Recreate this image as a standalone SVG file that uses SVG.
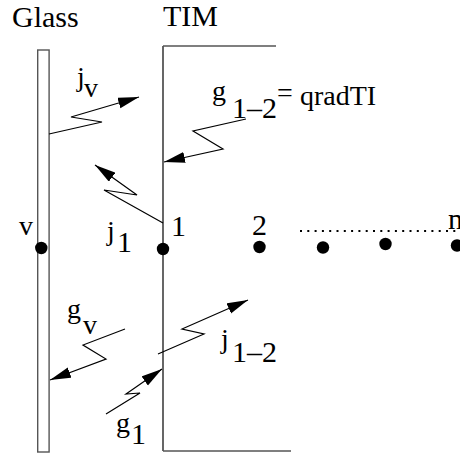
<svg xmlns="http://www.w3.org/2000/svg" width="460" height="457" viewBox="0 0 460 457">
<style>
.t{font-size:30px}
.l{font-size:28px}
.wall{fill:none;stroke:#555;stroke-width:1.4}
.edge{fill:none;stroke:#000;stroke-width:1.2}
.ray{fill:none;stroke:#000;stroke-width:1.2;marker-end:url(#ah)}
.pt{fill:#000}
</style>
<defs>
<marker id="ah" markerUnits="userSpaceOnUse" markerWidth="22" markerHeight="12" refX="21" refY="5.5" orient="auto">
<path d="M0,0 L21,5.5 L0,11 z" fill="#000"/>
</marker>
</defs>
<rect width="460" height="457" fill="#fff"/>
<g font-family="'Liberation Serif', 'Times New Roman', serif" fill="#000">
<g id="glass">
<rect class="wall" x="37.7" y="50" width="11.4" height="402"/>
<text class="t" x="12" y="27">Glass</text>
</g>
<g id="tim">
<line class="edge" x1="163" y1="46" x2="163" y2="451"/>
<line class="wall" x1="163" y1="46" x2="276" y2="46"/>
<line class="wall" x1="163" y1="451" x2="291" y2="451"/>
<text class="t" x="163" y="26">TIM</text>
</g>
<g id="point-v">
<circle class="pt" cx="41.3" cy="248" r="6.2"/>
<text class="l" x="19" y="235">v</text>
</g>
<g id="point-1">
<circle class="pt" cx="163" cy="249" r="6.2"/>
<text class="t" x="171" y="236">1</text>
</g>
<g id="point-2">
<circle class="pt" cx="259.5" cy="247" r="6.2"/>
<text class="t" x="252" y="235">2</text>
</g>
<g id="point-3">
<circle class="pt" cx="323" cy="247.5" r="6.2"/>
</g>
<g id="point-4">
<circle class="pt" cx="385.5" cy="244" r="6.2"/>
</g>
<g id="point-n">
<circle class="pt" cx="457" cy="245.5" r="6.2"/>
<text class="t" x="448" y="229">n</text>
</g>
<g id="connectors">
<line x1="300" y1="231" x2="460" y2="231" stroke="#000" stroke-width="2" stroke-dasharray="2 5.3"/>
<polyline class="ray" points="49,134 102,122 71,117 139,97"/>
<polyline class="ray" points="246,119 193,131 223,149 164,162"/>
<polyline class="ray" points="163,223 104,190 137,195 95,165"/>
<polyline class="ray" points="125,329 83,345 106,359 50,380"/>
<polyline class="ray" points="158,354 204,334 182,329 248,300"/>
<polyline class="ray" points="106,414 140,393 126,394 162,369"/>
</g>
<g id="labels">
<text class="l"><tspan x="77" y="86">j</tspan><tspan x="84" y="97">v</tspan></text>
<text class="l"><tspan x="212" y="100">g</tspan><tspan class="t" x="232" y="118">1–2</tspan><tspan x="277" y="102">=</tspan><tspan x="300" y="105">qradTI</tspan></text>
<text class="l"><tspan x="107" y="240">j</tspan><tspan class="t" x="117" y="252">1</tspan></text>
<text class="l"><tspan x="67" y="318">g</tspan><tspan x="83" y="334">v</tspan></text>
<text class="l"><tspan x="221" y="348">j</tspan><tspan class="t" x="232" y="362">1–2</tspan></text>
<text class="l"><tspan x="116" y="432">g</tspan><tspan class="t" x="131" y="444">1</tspan></text>
</g>
</g>
</svg>
